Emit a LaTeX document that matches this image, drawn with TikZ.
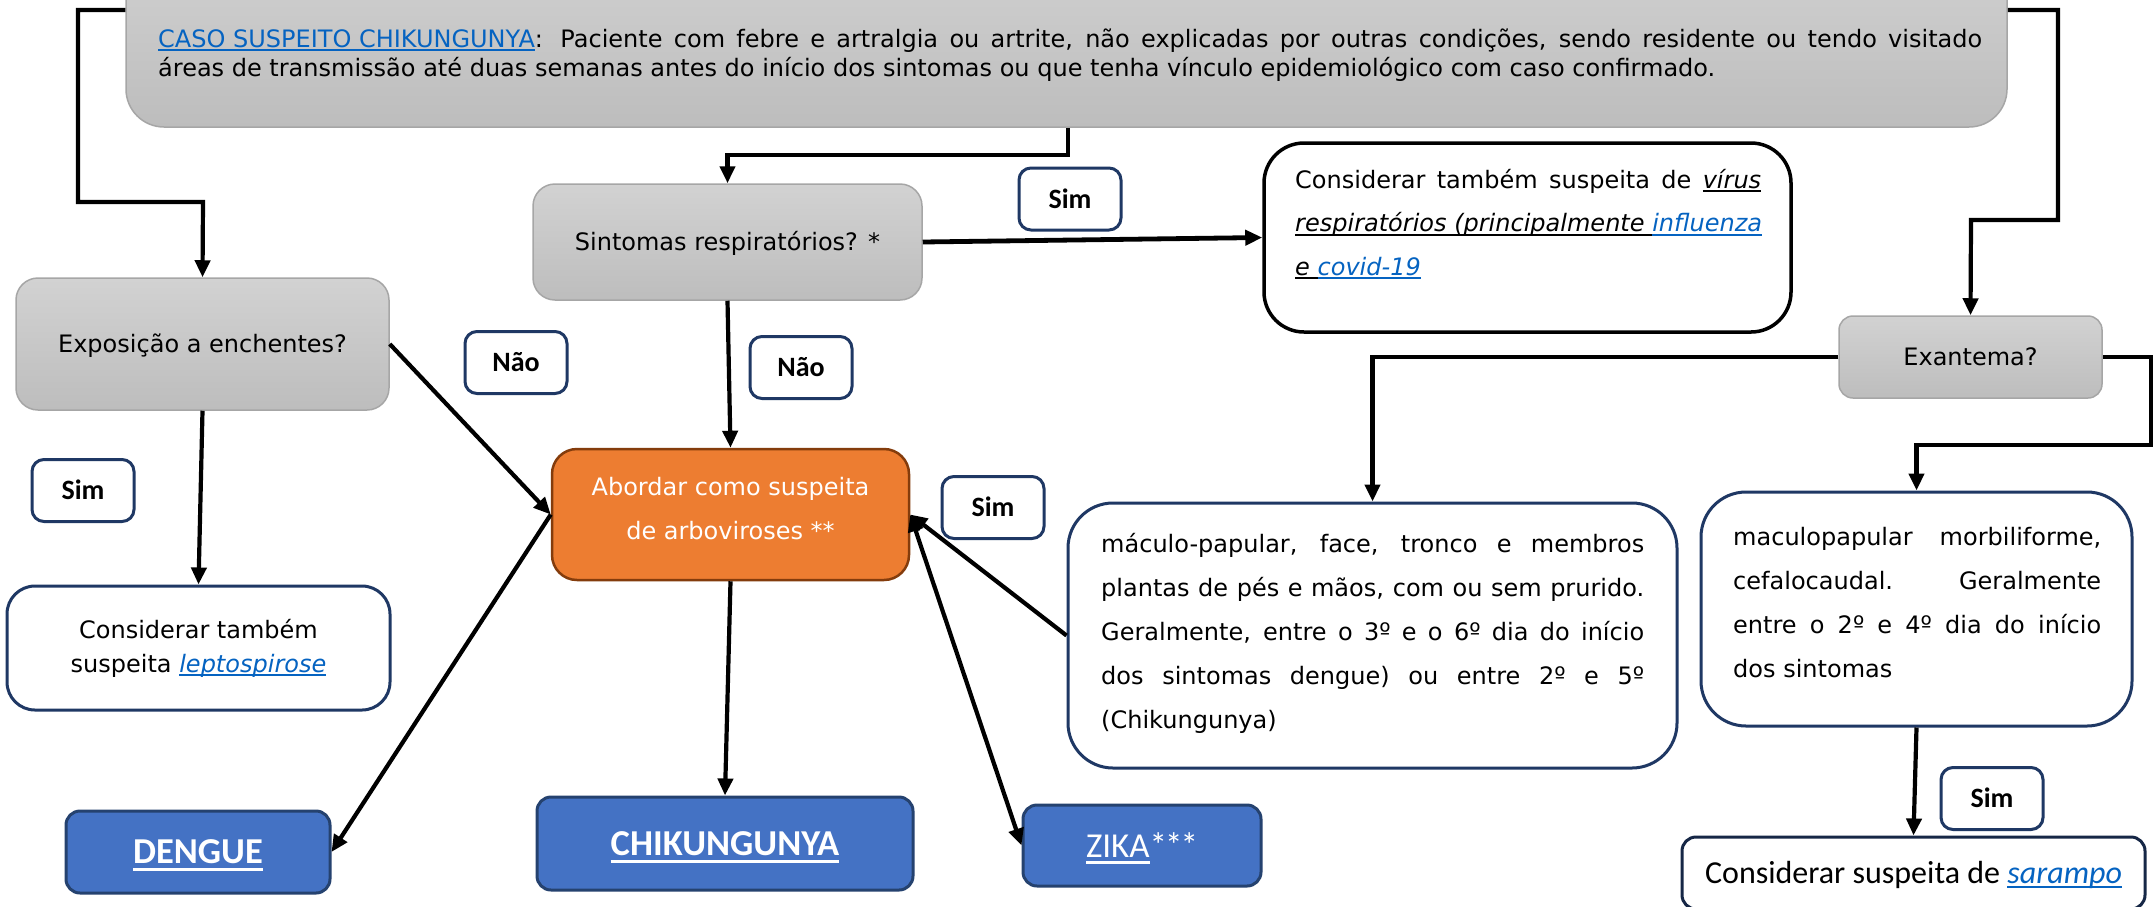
\documentclass[tikz,border=0pt]{standalone}
\usepackage{fontspec}
\setmainfont{DejaVu Sans}
\newfontfamily\carl{Carlito}
\usetikzlibrary{arrows.meta}

\definecolor{lnk}{HTML}{0563C1}
\definecolor{navy}{HTML}{1F3864}
\definecolor{orng}{HTML}{ED7D31}
\definecolor{orngb}{HTML}{843C0C}
\definecolor{bluebox}{HTML}{4472C4}
\definecolor{blueb}{HTML}{25426F}
\definecolor{grtop}{HTML}{D2D2D2}
\definecolor{grbot}{HTML}{BDBDBD}
\definecolor{grb}{HTML}{A6A6A6}

\newlength\uldepth \setlength\uldepth{4pt}
\newlength\ulthick \setlength\ulthick{2pt}
\newcommand\ulin[1]{\leavevmode\setbox0=\hbox{#1}\rlap{\rule[-\uldepth]{\wd0}{\ulthick}}\box0}
% justified line of given width / centred line / left line
\newcommand\jlin[2]{\hbox to #1{\strut #2}}
\newcommand\clin[2]{\hbox to #1{\hfil\strut #2\hfil}}
\newcommand\lfin[1]{\hbox{\strut #1}}

\tikzset{
  every node/.style={font=\fontsize{24}{29}\selectfont},
  gbox/.style={draw=grb, line width=1.5pt, top color=grtop, bottom color=grbot,
    rounded corners=22pt, inner sep=0pt, text height=17.5pt, text depth=0pt},
  wbox/.style={draw=navy, line width=3pt, fill=white, rounded corners=45pt, inner sep=0pt},
  obox/.style={draw=orngb, line width=2.5pt, fill=orng, rounded corners=25pt, inner sep=0pt},
  bbox/.style={draw=blueb, line width=3pt, fill=bluebox, rounded corners=14pt, inner sep=0pt,
    text=white, font=\carl\bfseries\fontsize{36.5}{40}\selectfont, text height=23.5pt, text depth=0pt},
  lbl/.style={draw=navy, line width=3pt, fill=white, rounded corners=12pt,
    minimum width=102pt, minimum height=62pt, inner sep=0pt,
    font=\carl\bfseries\fontsize{28}{30}\selectfont, text height=18pt, text depth=0pt},
  txt/.style={inner sep=0pt, anchor=north west},
  conn/.style={line width=4.2pt, line join=miter, -{Triangle[length=17pt,width=15pt]}}
}

\begin{document}
\begin{tikzpicture}[x=1pt,y=-1pt]
\useasboundingbox (0,0) rectangle (2154,906);
\fill[white] (0,0) rectangle (2154,906);

% top box
\node[gbox, rounded corners=38pt, minimum width=1881pt, minimum height=187pt] (top) at (1066.5,33.5) {};
\node[txt, font=\fontsize{24}{29}\selectfont] (toptxt) at (158,26.7)
 {\vbox{\jlin{1824pt}{{\color{lnk}\ulin{CASO SUSPEITO CHIKUNGUNYA}}: Paciente com febre e artralgia ou artrite, não explicadas por outras condições, sendo residente ou tendo visitado}%
  \lfin{áreas de transmissão até duas semanas antes do início dos sintomas ou que tenha vínculo epidemiológico com caso confirmado.}}};

% gray decision boxes
\node[gbox, minimum width=373pt, minimum height=132pt] (expo) at (202.5,344) {Exposição a enchentes?};
\node[gbox, minimum width=389pt, minimum height=116pt] (sint) at (727.5,242) {Sintomas respiratórios? *};
\node[gbox, rounded corners=14pt, minimum width=263pt, minimum height=82pt] (exan) at (1970.5,357) {Exantema?};

% viral box
\node[wbox, draw=black, line width=3.5pt, rounded corners=40pt, minimum width=527pt, minimum height=189pt] (viral) at (1527.5,237.5) {};
\node[txt, font=\fontsize{24}{43.5}\selectfont] (viraltxt) at (1295,157.5)
 {\vbox{\jlin{466pt}{Considerar também suspeita de \ulin{\textit{vírus}}}%
  \jlin{466pt}{\ulin{\textit{respiratórios (principalmente }}\hfil{\color{lnk}\ulin{\textit{influenza}}}}%
  \lfin{\ulin{\textit{e }}{\color{lnk}\ulin{\textit{covid-19}}}}}};

% macula box
\node[wbox, minimum width=609pt, minimum height=265pt] (macula) at (1372.5,635.5) {};
\node[txt, font=\fontsize{24}{44}\selectfont] (maculatxt) at (1101,521.2)
 {\vbox{\jlin{543pt}{máculo-papular, face, tronco e membros}%
  \jlin{543pt}{plantas de pés e mãos, com ou sem prurido.}%
  \jlin{543pt}{Geralmente, entre o 3º e o 6º dia do início}%
  \jlin{543pt}{dos sintomas dengue) ou entre 2º e 5º}%
  \lfin{(Chikungunya)}}};

% right box
\node[wbox, minimum width=431pt, minimum height=234pt] (right) at (1916.5,609) {};
\node[txt, font=\fontsize{24}{44}\selectfont] (righttxt) at (1733,514.2)
 {\vbox{\jlin{368pt}{maculopapular morbiliforme,}%
  \jlin{368pt}{cefalocaudal.\ Geralmente}%
  \jlin{368pt}{entre o 2º e 4º dia do início}%
  \lfin{dos sintomas}}};

% sarampo box
\node[wbox, draw=navy!70!black, rounded corners=14pt, minimum width=463pt, minimum height=72pt,
  font=\carl\fontsize{32}{36}\selectfont, text height=20.6pt, text depth=0pt] (saramp) at (1913.5,873)
 {Considerar suspeita de {\color{lnk}\setlength\uldepth{5pt}\ulin{\textit{sarampo}}}};

% abordar box
\node[obox, minimum width=357pt, minimum height=131pt] (abord) at (730.5,514.5) {};
\node[txt, anchor=north, text=white, font=\fontsize{24}{44}\selectfont] (abordtxt) at (730.5,464.2)
 {\vbox{\clin{357pt}{Abordar como suspeita}%
  \clin{357pt}{de arboviroses **}}};

% leptospirose box
\node[wbox, rounded corners=28pt, minimum width=383pt, minimum height=124pt] (lepto) at (198.5,648) {};
\node[txt, anchor=north, font=\fontsize{24}{34}\selectfont] (leptotxt) at (198.5,614.2)
 {\vbox{\clin{383pt}{Considerar também}%
  \clin{383pt}{suspeita {\color{lnk}\ulin{\textit{leptospirose}}}}}};

% result boxes
\node[bbox, minimum width=264pt, minimum height=82pt] (dengue) at (198,852)
 {\setlength\uldepth{7.5pt}\setlength\ulthick{3pt}\ulin{DENGUE}};
\node[bbox, minimum width=376pt, minimum height=93pt] (chik) at (725,843.5)
 {\setlength\uldepth{7.5pt}\setlength\ulthick{3pt}\ulin{CHIKUNGUNYA}};
\node[bbox, minimum width=238pt, minimum height=81pt, font=\carl\fontsize{35}{40}\selectfont] (zika) at (1142,845.5)
 {\setlength\uldepth{6.5pt}\setlength\ulthick{2.5pt}\ulin{ZIKA}*\kern-2pt*\kern-2pt*};

% labels
\node[lbl] (sim1) at (1070,199) {Sim};
\node[lbl] (nao1) at (516,362.5) {Não};
\node[lbl] (nao2) at (801,367.5) {Não};
\node[lbl] (sim2) at (83,490.5) {Sim};
\node[lbl] (sim3) at (993,507.5) {Sim};
\node[lbl] (sim4) at (1992,798.5) {Sim};

% connectors
\coordinate (tl1) at (78,10);
\coordinate (tl2) at (203,202);
\coordinate (tc1) at (1068,155);
\coordinate (tr1) at (2058,10);
\coordinate (tr2) at (1971,220);
\coordinate (er1) at (2151,445);

\draw[conn] (top.west |- tl1) -- (tl1) |- (tl2) -- (expo.north);
\draw[conn] (top.south -| tc1) -- (tc1) -| (sint.north);
\draw[conn] (top.east |- tr1) -- (tr1) |- (tr2) -- (exan.north);
\draw[conn, line width=4.8pt] (sint.east) -- (viral.west);
\draw[conn] (sint.south) -- (abord.north);
\draw[conn] (expo.east) -- (abord.west);
\draw[conn] (expo.south) -- (lepto.north);
\draw[conn] (abord.west) -- (dengue.east);
\draw[conn] (abord.south) -- (chik.north);
\draw[conn] (macula.west) -- (abord.east);
\draw[conn, {Triangle[length=17pt,width=15pt]}-{Triangle[length=17pt,width=15pt]}] (abord.east) -- (zika.west);
\draw[conn] (exan.west) -| (macula.north);
\draw[conn] (exan.east) -| (er1) -| (right.north);
\draw[conn] (right.south) -- (saramp.north);
\end{tikzpicture}
\end{document}
